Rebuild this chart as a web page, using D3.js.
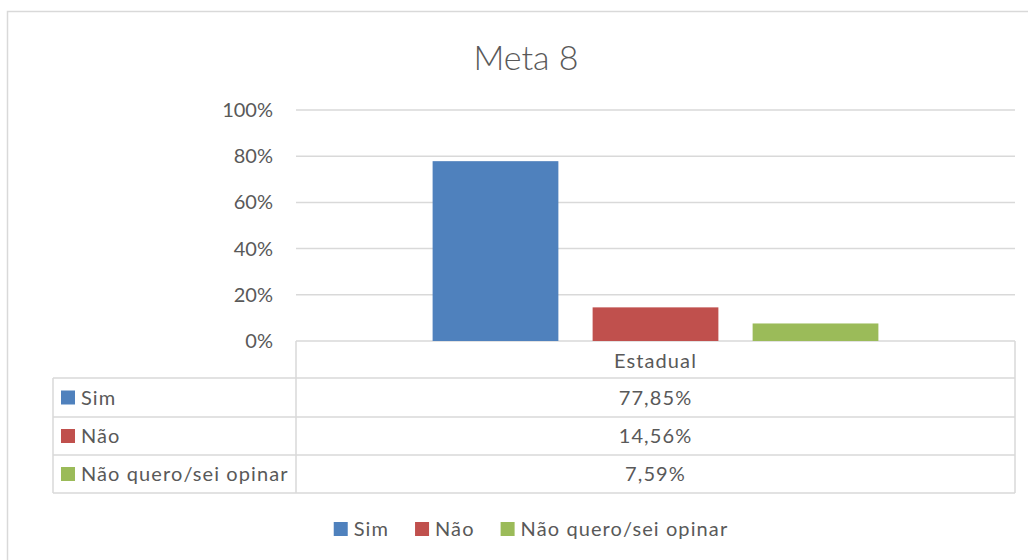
<!DOCTYPE html>
<html>
<head>
<meta charset="utf-8">
<script src="https://cdn.jsdelivr.net/npm/d3@7/dist/d3.min.js"></script>
<style>
  body { margin: 0; background: #fff; }
  svg text { font-family: Lato, "Open Sans", sans-serif; fill: #595959; }
  .spaced { letter-spacing: 1.1px; }
</style>
</head>
<body>
<svg id="chart" width="1028" height="560"></svg>
<script>
var title = "Meta 8";
var categories = ["Estadual"];
var series = ["Sim", "Não", "Não quero/sei opinar"];
var values = [0.7785, 0.1456, 0.0759];
var valueLabels = ["77,85%", "14,56%", "7,59%"];
var yTicks = [0, 0.2, 0.4, 0.6, 0.8, 1];

var colors = ["#4F81BD", "#C0504D", "#9BBB59"];
var gridColor = "#d9d9d9";

var svg = d3.select("#chart");

// outer chart border
svg.append("rect")
  .attr("x", 7.5).attr("y", 11.5)
  .attr("width", 1040).attr("height", 580)
  .attr("fill", "none")
  .attr("stroke", gridColor)
  .attr("stroke-width", 1.5);

svg.append("text")
  .attr("x", 526).attr("y", 70)
  .attr("text-anchor", "middle")
  .style("font-size", "34px")
  .style("font-weight", "300")
  .text(title);

var plot = { left: 296, right: 1015, top: 110, bottom: 341 };

var y = d3.scaleLinear().domain([0, 1]).range([plot.bottom, plot.top]);

var x0 = d3.scaleBand()
  .domain(categories)
  .range([plot.left, plot.right])
  .paddingInner(0.38)
  .paddingOuter(0.19);

var x1 = d3.scaleBand()
  .domain(series)
  .range([0, x0.bandwidth()])
  .paddingInner(0.214)
  .paddingOuter(0);

// gridlines
svg.append("g").selectAll("line")
  .data(yTicks)
  .join("line")
  .attr("x1", plot.left).attr("x2", plot.right)
  .attr("y1", d => y(d)).attr("y2", d => y(d))
  .attr("stroke", gridColor)
  .attr("stroke-width", 1.5);

// y tick labels
svg.append("g").selectAll("text")
  .data(yTicks)
  .join("text")
  .attr("x", 273)
  .attr("y", d => y(d) + 2)
  .attr("text-anchor", "end")
  .attr("dominant-baseline", "middle")
  .style("font-size", "20px")
  .text(d => Math.round(d * 100) + "%");

// bars
svg.append("g").selectAll("rect")
  .data(series.map((s, i) => ({ s: s, v: values[i], c: colors[i] })))
  .join("rect")
  .attr("x", d => x0(categories[0]) + x1(d.s))
  .attr("y", d => y(d.v))
  .attr("width", x1.bandwidth())
  .attr("height", d => y(0) - y(d.v))
  .attr("fill", d => d.c);

// data table
var tableLeft = 53;
var rowTops = [341, 378, 417, 455, 493];
var table = svg.append("g")
  .attr("stroke", gridColor)
  .attr("stroke-width", 1.5)
  .attr("fill", "none");

table.append("line")
  .attr("x1", plot.left).attr("x2", plot.left)
  .attr("y1", rowTops[0]).attr("y2", rowTops[4]);
table.append("line")
  .attr("x1", plot.right).attr("x2", plot.right)
  .attr("y1", rowTops[0]).attr("y2", rowTops[4]);
table.append("line")
  .attr("x1", tableLeft).attr("x2", tableLeft)
  .attr("y1", rowTops[1]).attr("y2", rowTops[4]);
table.selectAll(".row-line")
  .data(rowTops.slice(1))
  .join("line")
  .attr("class", "row-line")
  .attr("x1", tableLeft).attr("x2", plot.right)
  .attr("y1", d => d).attr("y2", d => d);

var colCenter = x0(categories[0]) + x0.bandwidth() / 2;

svg.append("text")
  .attr("class", "spaced")
  .attr("x", colCenter)
  .attr("y", (rowTops[0] + rowTops[1]) / 2 + 3)
  .attr("text-anchor", "middle")
  .attr("dominant-baseline", "middle")
  .style("font-size", "20px")
  .text(categories[0]);

series.forEach(function(s, i) {
  var mid = (rowTops[i + 1] + rowTops[i + 2]) / 2;
  svg.append("rect")
    .attr("x", 61).attr("y", mid - 7)
    .attr("width", 14).attr("height", 14)
    .attr("fill", colors[i]);
  svg.append("text")
    .attr("class", "spaced")
    .attr("x", 81).attr("y", mid + 2)
    .attr("dominant-baseline", "middle")
    .style("font-size", "20px")
    .text(s);
  svg.append("text")
    .attr("class", "spaced")
    .attr("x", colCenter).attr("y", mid + 2)
    .attr("text-anchor", "middle")
    .attr("dominant-baseline", "middle")
    .style("font-size", "20px")
    .text(valueLabels[i]);
});

// bottom legend
var legend = svg.append("g");
var items = legend.selectAll("g")
  .data(series)
  .join("g");
items.append("rect")
  .attr("width", 14).attr("height", 14)
  .attr("y", -7)
  .attr("fill", (d, i) => colors[i]);
items.append("text")
  .attr("class", "spaced")
  .attr("x", 20).attr("y", 2)
  .attr("dominant-baseline", "middle")
  .style("font-size", "20px")
  .text(d => d);

var pos = 0;
items.each(function() {
  var w = d3.select(this).select("text").node().getComputedTextLength();
  d3.select(this).attr("transform", "translate(" + pos + ",0)");
  pos += 20 + w + 26;
});
var totalW = pos - 26;
legend.attr("transform", "translate(" + (531 - totalW / 2) + ",529)");
</script>
</body>
</html>
